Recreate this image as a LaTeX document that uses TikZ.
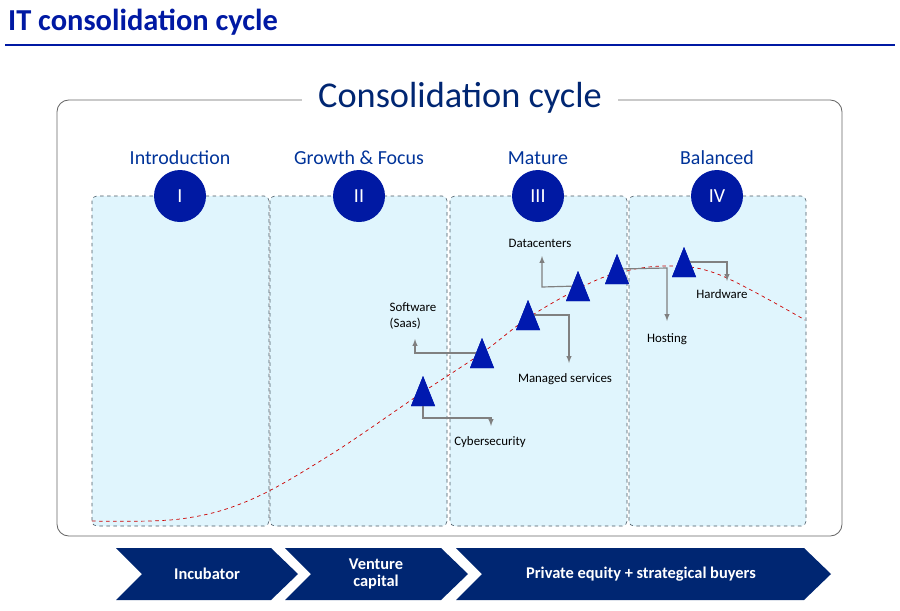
\documentclass[tikz,border=0pt]{standalone}
\usepackage{fontspec}
\setmainfont{Carlito}
\begin{document}
\begin{tikzpicture}[x=0.03cm,y=-0.03cm,
  panel/.style={draw=black!70!cyan,dashed,fill=cyan!12,rounded corners=4pt,line width=0.5pt},
  phase/.style={text=blue!50!black!80!cyan,font=\fontsize{17}{20}\selectfont},
  num/.style={circle,fill=blue!60!black!90!cyan,text=white,minimum size=1.56cm,inner sep=0pt,font=\fontsize{17}{20}\selectfont},
  tri/.style={fill=blue!65!black!90!cyan},
  conn/.style={draw=gray,line width=1pt,-latex},
  lbl/.style={font=\fontsize{11}{13}\selectfont,align=left},
  chev/.style={fill=blue!35!black!85!cyan},
  chtxt/.style={text=white,font=\bfseries\fontsize{14}{15}\selectfont,align=center}]
\useasboundingbox (0,0) rectangle (900,610);
\node[anchor=west,text=blue!60!black!90!cyan,font=\bfseries\fontsize{26}{30}\selectfont] (title) at (4,22) {IT consolidation cycle};
\draw[blue!60!black!90!cyan,line width=1.5pt] (5,45) -- (895,45);
\draw[gray!80!black,line width=0.7pt,rounded corners=10pt] (57,100) rectangle (842,536);
\node[fill=white,text=blue!35!black!85!cyan,font=\fontsize{31}{36}\selectfont,inner xsep=14pt] (sub) at (460,98) {Consolidation cycle};
\foreach \x/\n/\t/\r in {92/a/Introduction/I,270/b/Growth \& Focus/II,450/c/Mature/III,629/d/Balanced/IV}{
  \draw[panel] (\x,196) rectangle (\x+177,526);
}
\foreach \x/\n/\t/\r in {180/a/Introduction/I,359/b/Growth \& Focus/II,538/c/Mature/III,717/d/Balanced/IV}{
  \node[phase] (p\n) at (\x,158) {\t};
  \node[num] (c\n) at (\x,196) {\r};
}
\draw[red!80!black,dashed,line width=0.6pt] plot[smooth,tension=0.6] coordinates {(92,521) (180,519) (250,500) (330,455) (423,392) (482,353) (528,318) (578,289) (617,273) (668,266) (720,275) (805,320)};
% triangles
\foreach \n/\x/\a in {t1/423/376,t2/482/338,t3/528/300,t4/578/271,t5/617/254,t6/684/247}{
  \fill[tri] (\x,\a) -- (\x+12,\a+30) -- (\x-12,\a+30) -- cycle;
  \coordinate (\n) at (\x,\a+15);
}
\node[lbl] (l1) at (490,442) {Cybersecurity};
\node[lbl] (l2) at (413,316) {Software\\(Saas)};
\node[lbl] (l3) at (565,379) {Managed services};
\node[lbl] (l4) at (540,243) {Datacenters};
\node[lbl] (l5) at (667,339) {Hosting};
\node[lbl] (l6) at (722,294) {Hardware};
\coordinate (e1) at (491,426); \coordinate (e2) at (415,339);
\coordinate (e3) at (569,363); \coordinate (e4) at (542,256);
\coordinate (e5) at (667,321); \coordinate (e6) at (727,281);
\draw[conn] (423,405) |- (491,418) -- (e1);
\draw[conn] (t2) -- (415,353) -- (e2);
\draw[conn] (t3) -- (569,315) -- (e3);
\draw[conn] (t4) -- (542,287) -- (e4);
\draw[conn] (t5) -- (667,268) -- (e5);
\draw[conn] (t6) -- (727,262) -- (e6);
% redraw triangles on top of connectors
\foreach \x/\a in {423/376,482/338,528/300,578/271,617/254,684/247}{
  \fill[tri] (\x,\a) -- (\x+12,\a+30) -- (\x-12,\a+30) -- cycle;
}
% chevrons
\fill[chev] (116,548) -- (271,548) -- (298,574) -- (271,600) -- (116,600) -- (142,574) -- cycle;
\fill[chev] (285,548) -- (441,548) -- (468,574) -- (441,600) -- (285,600) -- (311,574) -- cycle;
\fill[chev] (456,548) -- (804,548) -- (831,574) -- (804,600) -- (456,600) -- (482,574) -- cycle;
\node[chtxt] (k1) at (207,574) {Incubator};
\node[chtxt] (k2) at (376,574) {Venture\\capital};
\node[chtxt] (k3) at (641,574) {Private equity + strategical buyers};
\end{tikzpicture}
\end{document}
